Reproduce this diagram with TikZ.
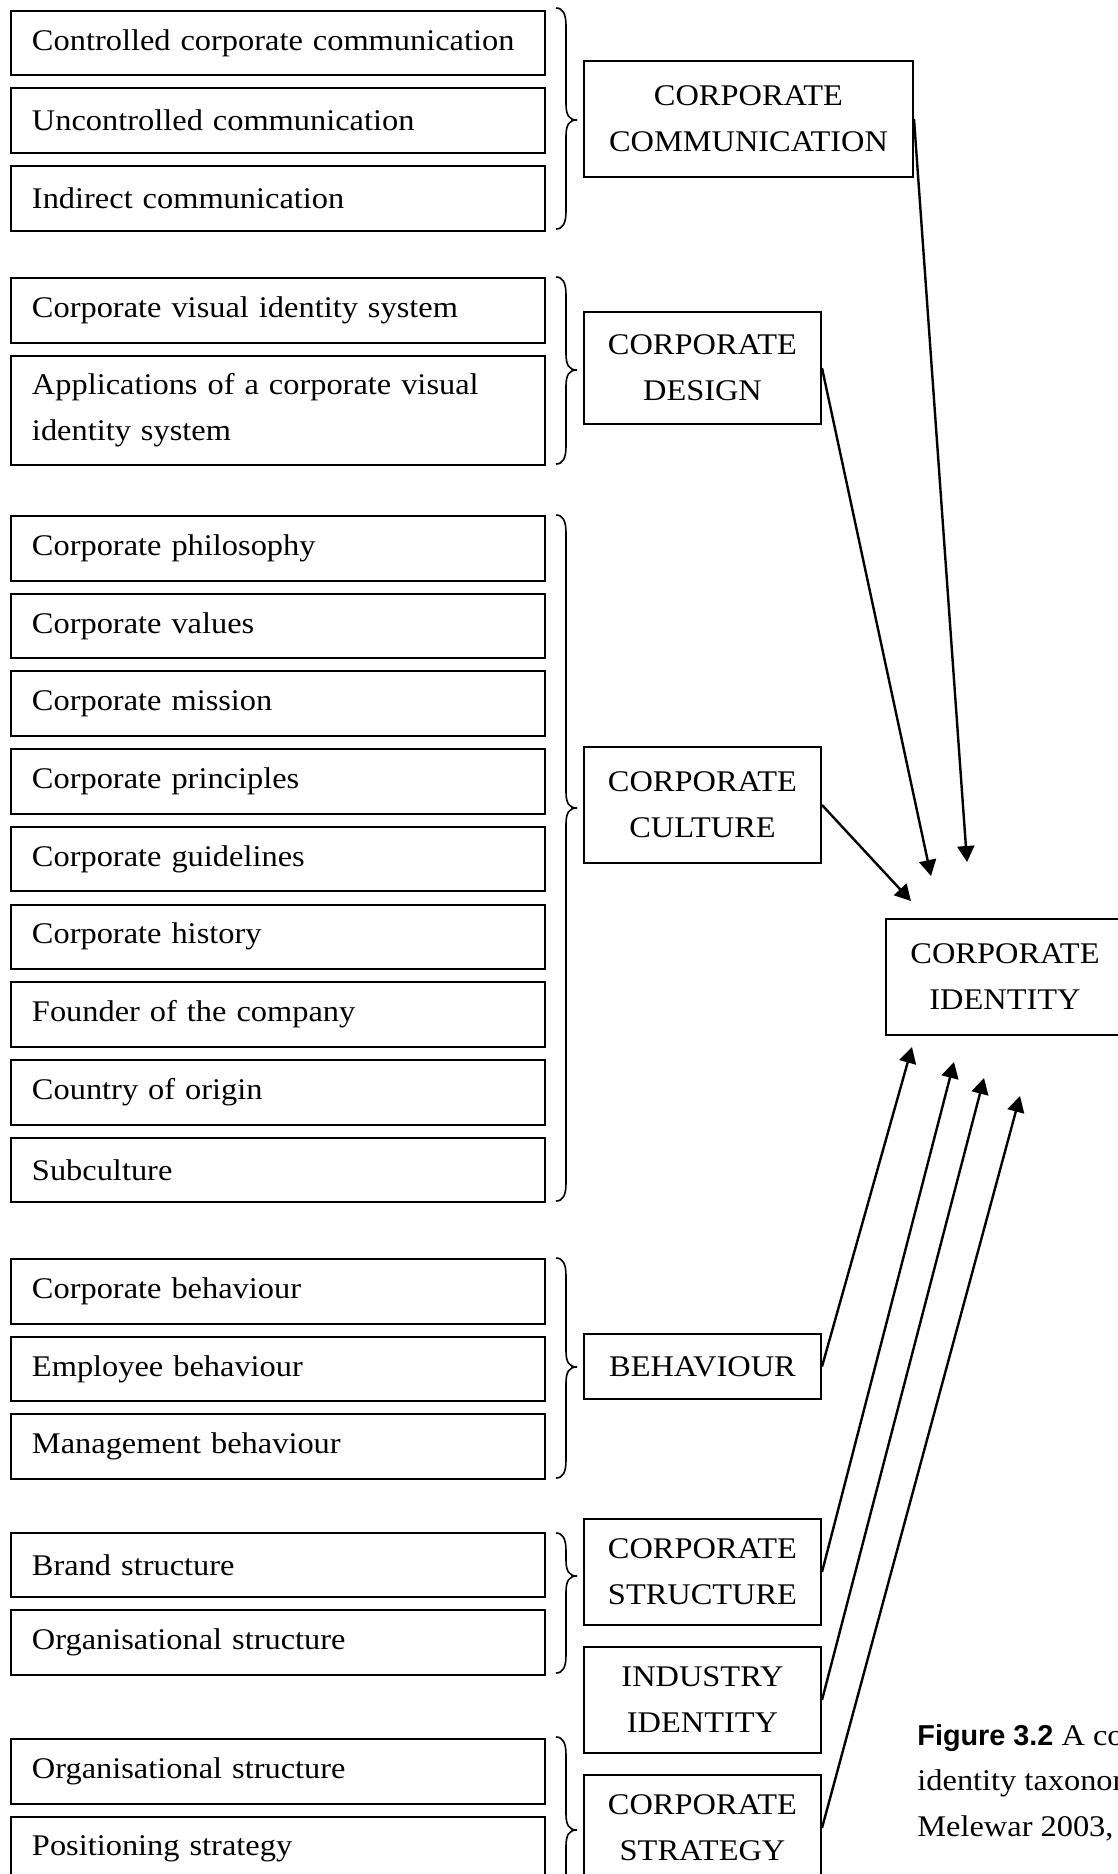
\documentclass[tikz,border=0pt]{standalone}
\usepackage{fontspec}
\setmainfont[FakeStretch=1.08]{Liberation Serif}
\newfontfamily\capsans{Liberation Sans}
\usetikzlibrary{arrows.meta}
\newcommand\mybrace[3]{%
  \draw[bracestyle] (556,#1) .. controls (563,#1) and (566,{#1+6}) .. (566,{#1+18})
    -- (566,{#2-16}) .. controls (566,{#2-5}) and (569,#2) .. (577,#2)
    .. controls (569,#2) and (566,{#2+5}) .. (566,{#2+16})
    -- (566,{#3-18}) .. controls (566,{#3-6}) and (563,#3) .. (556,#3);}
\begin{document}
\begin{tikzpicture}[x=0.5pt,y=-0.5pt,
  txt/.style={font=\fontsize{15}{23}\selectfont},
  lbox/.style={txt, draw, line width=1pt, anchor=north west, minimum width=267pt,
    text width=246pt, inner xsep=10.5pt, inner ysep=0pt, align=left, minimum height=32.3pt},
  rbox/.style={txt, draw, line width=1pt, minimum width=118.5pt, inner sep=0pt, align=center},
  bracestyle/.style={line width=0.8pt},
  arr/.style={line width=1.2pt, -{Triangle[length=8pt,width=8.5pt]}},
  captxt/.style={txt, anchor=base west, inner sep=0pt}]
\useasboundingbox (0,0) rectangle (1118,1874);
\clip (0,0) rectangle (1118,1874);
% group 1
\node[lbox] (a1) at (10,9.6) {Controlled corporate communication};
\node[lbox] (a2) at (10,87.3) {Uncontrolled communication};
\node[lbox] (a3) at (10,165) {Indirect communication};
% group 2
\node[lbox] (b1) at (10,277.4) {Corporate visual identity system};
\node[lbox, minimum height=54.5pt] (b2) at (10,355) {Applications of a corporate visual\\identity system};
% group 3
\node[lbox] (c1) at (10,515) {Corporate philosophy};
\node[lbox] (c2) at (10,592.7) {Corporate values};
\node[lbox] (c3) at (10,670.4) {Corporate mission};
\node[lbox] (c4) at (10,748.1) {Corporate principles};
\node[lbox] (c5) at (10,825.8) {Corporate guidelines};
\node[lbox] (c6) at (10,903.5) {Corporate history};
\node[lbox] (c7) at (10,981.2) {Founder of the company};
\node[lbox] (c8) at (10,1058.9) {Country of origin};
\node[lbox] (c9) at (10,1136.6) {Subculture};
% group 4
\node[lbox] (d1) at (10,1258) {Corporate behaviour};
\node[lbox] (d2) at (10,1335.7) {Employee behaviour};
\node[lbox] (d3) at (10,1413.4) {Management behaviour};
% group 5
\node[lbox] (e1) at (10,1531.7) {Brand structure};
\node[lbox] (e2) at (10,1609.4) {Organisational structure};
% group 6
\node[lbox] (f1) at (10,1738) {Organisational structure};
\node[lbox] (f2) at (10,1815.7) {Positioning strategy};
% braces
\mybrace{8}{120}{229}
\mybrace{277}{370}{464}
\mybrace{515}{808}{1201}
\mybrace{1258}{1367}{1478}
\mybrace{1533}{1576}{1673}
\mybrace{1737}{1830}{1921}
% middle boxes
\node[rbox, minimum width=164.5pt, minimum height=58pt] (comm) at (748.5,119) {CORPORATE\\COMMUNICATION};
\node[rbox, minimum height=56pt] (design) at (702.5,368) {CORPORATE\\DESIGN};
\node[rbox, minimum height=58pt] (culture) at (702.5,805) {CORPORATE\\CULTURE};
\node[rbox, minimum height=32.5pt] (behav) at (702.5,1366.5) {BEHAVIOUR};
\node[rbox, minimum height=53pt] (struct) at (702.5,1572) {CORPORATE\\STRUCTURE};
\node[rbox, minimum height=53pt] (indus) at (702.5,1700) {INDUSTRY\\IDENTITY};
\node[rbox, minimum height=53pt] (strat) at (702.5,1828) {CORPORATE\\STRATEGY};
\node[rbox, minimum width=119pt, minimum height=58pt] (ident) at (1005,977) {CORPORATE\\IDENTITY};
% arrow ends
\coordinate (tComm) at (967,862);
\coordinate (tDesign) at (931,876);
\coordinate (tCulture) at (911,901);
\coordinate (tBehav) at (912,1047);
\coordinate (tStruct) at (954,1062);
\coordinate (tIndus) at (984,1078);
\coordinate (tStrat) at (1020,1096);
\draw[arr] (comm.east) -- (tComm);
\draw[arr] (design.east) -- (tDesign);
\draw[arr] (culture.east) -- (tCulture);
\draw[arr] (behav.east) -- (tBehav);
\draw[arr] (struct.east) -- (tStruct);
\draw[arr] (indus.east) -- (tIndus);
\draw[arr] (strat.east) -- (tStrat);
% caption
\node[captxt] (cap1) at (917,1745) {{\capsans\bfseries\fontsize{14.4}{23}\selectfont Figure 3.2} A co};
\node[captxt] (cap2) at (917,1790) {identity taxonom};
\node[captxt] (cap3) at (917,1836) {Melewar 2003, p};
\end{tikzpicture}
\end{document}
